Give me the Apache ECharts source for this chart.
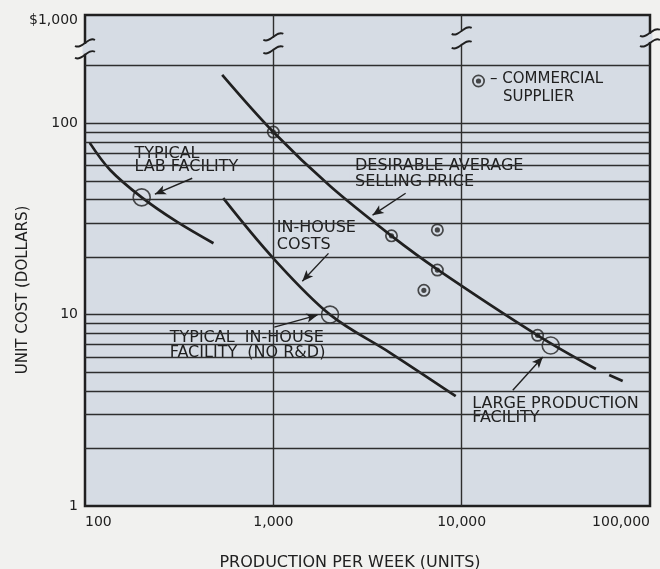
<!DOCTYPE html>
<html><head><meta charset="utf-8">
<script src="https://cdn.jsdelivr.net/npm/echarts@6/dist/echarts.min.js"></script>
<style>html,body{margin:0;padding:0;background:#f1f1ef}#c{width:660px;height:569px}</style>
</head><body><div id="c"></div>
<script>
// ---- data ----
const xTicks = [100, 1000, 10000, 100000];
const yTopLabel = '$1,000';
const gridValuesY = [2,3,4,5,6,7,8,9,10,20,30,40,50,60,70,80,90,100,200];
const gridValuesX = [1000, 10000];
const labCurve = [[106,79],[136,57],[200,41],[307,30.6],[481,23.6]];
const priceCurve = [[535,179],[1000,90],[2000,47],[4240,25.8],[7450,17.2],[25300,7.8],[51600,5.2]];
const priceCurveTail = [[60700,4.84],[71600,4.5]];
const inHouseCurve = [[542,40.6],[1000,19.7],[2000,10],[4190,6.3],[9300,3.75]];
const commercialSuppliers = [[1000,90],[4240,25.8],[7430,27.7],[7430,17.1],[6300,13.4],[25300,7.8]];
const facilities = [[200,41],[2000,10],[29700,6.9]];
const annotationTexts = ['TYPICAL\nLAB FACILITY', 'DESIRABLE AVERAGE\nSELLING PRICE', 'IN-HOUSE\nCOSTS', 'TYPICAL  IN-HOUSE\nFACILITY  (NO R&D)', 'LARGE PRODUCTION\nFACILITY'];
const annotationAnchors = [[173.5,64],[2568,54],[941,25.6],[257,6.9],[10762,3.14]];
const arrowFrom = [[371,51.6],[5040,43.1],[1963,20.9],[1012,8.6],[18680,4.03]];
const arrowTo   = [[235,42.6],[3365,33.1],[1425,14.96],[1714,9.94],[26970,6.0]];
// axis-break marks: x value, upper and lower y value of the two strokes
const breakX = [100, 1000, 10000, 100000];
const breakYUpper = [263, 283, 304, 297];
const breakYLower = [228, 242, 257, 263];

// ---- styles ----
const INK = '#202020', PLOT = '#d6dce4', PAGE = '#f1f1ef';
const FONT = '"DejaVu Sans", sans-serif';
const fmt = v => Math.round(v).toLocaleString('en-US');
const BULLSEYE = 'path://M10,0A10,10,0,1,1,-10,0A10,10,0,1,1,10,0ZM7.4,0A7.4,7.4,0,1,0,-7.4,0A7.4,7.4,0,1,0,7.4,0ZM4,0A4,4,0,1,1,-4,0A4,4,0,1,1,4,0Z';
const labelStyles = [
  {lh:13, pad:[6,4,3,5]},
  {lh:16, pad:[2,4,2,5]},
  {lh:17, pad:[2,6,0,9]},
  {lh:15, pad:[2,12,5,8]},
  {lh:14, pad:[0,5,2,5]}
];

const chart = echarts.init(document.getElementById('c'), null, {renderer:'canvas'});
const curve = (name, data, extra) => Object.assign({
  name, type:'line', data, smooth:0.35, showSymbol:false, symbol:'none', z:3, silent:true,
  lineStyle:{color:INK, width:2.7}
}, extra || {});

const option = {
  animation:false,
  backgroundColor:PAGE,
  tooltip:{show:false},
  grid:{left:85, right:10, top:15, bottom:63, show:true, backgroundColor:PLOT, borderColor:INK, borderWidth:2.5,
    containLabel:false, outerBoundsMode:'none'},
  xAxis:{
    type:'log', logBase:10, min:xTicks[0], max:xTicks[xTicks.length-1],
    axisLine:{show:false}, axisTick:{show:false}, splitLine:{show:false},
    axisLabel:{color:INK, fontFamily:FONT, fontSize:14, margin:9, formatter:fmt, alignMinLabel:'left', alignMaxLabel:'right'},
    name:'PRODUCTION PER WEEK (UNITS)', nameLocation:'middle', nameGap:49, nameMoveOverlap:false,
    nameTextStyle:{color:INK, fontFamily:FONT, fontSize:16, padding:[0,35,0,0]}
  },
  yAxis:{
    type:'log', logBase:10, min:1, max:368,
    axisLine:{show:false}, axisTick:{show:false}, splitLine:{show:false},
    axisLabel:{color:INK, fontFamily:FONT, fontSize:14, margin:7, showMaxLabel:true,
      formatter:v => v > 150 ? '{top|' + yTopLabel + '}' : fmt(v),
      rich:{top:{color:INK, fontFamily:FONT, fontSize:14, padding:[10,0,0,0]}}},
    name:'UNIT COST (DOLLARS)', nameLocation:'middle', nameGap:54, nameRotate:90, nameMoveOverlap:false,
    nameTextStyle:{color:INK, fontFamily:FONT, fontSize:15, padding:[0,59,0,0]}
  },
  legend:{
    show:true, left:467, top:51, itemWidth:13, itemHeight:13, selectedMode:false,
    data:[{name:'COMMERCIAL SUPPLIER', icon:BULLSEYE}],
    formatter:() => '{d|–} {t|COMMERCIAL}\n{s|SUPPLIER}',
    textStyle:{color:INK, fontFamily:FONT, fontSize:15, lineHeight:18, padding:[14,0,0,0],
      rich:{
        d:{color:INK, fontFamily:FONT, fontSize:15, lineHeight:18},
        t:{color:INK, fontFamily:FONT, fontSize:15, lineHeight:18},
        s:{color:INK, fontFamily:FONT, fontSize:15, lineHeight:18, padding:[0,0,0,13]}
      }}
  },
  series:[
    { name:'grid', type:'line', data:[[xTicks[0],1]], showSymbol:false, symbol:'none', z:1, silent:true,
      lineStyle:{opacity:0},
      markLine:{silent:true, symbol:['none','none'], label:{show:false}, animation:false,
        emphasis:{disabled:true},
        lineStyle:{color:'#2e2e2e', width:1.4, type:'solid'},
        data:[...gridValuesY.map(v => ({yAxis:v})), ...gridValuesX.map(v => ({xAxis:v}))]}
    },
    { name:'annotations', type:'scatter', z:2, silent:true, symbolSize:1,
      itemStyle:{color:'transparent'},
      label:{show:true, position:[0,0], align:'left', verticalAlign:'middle', color:INK, opacity:1,
        textBorderWidth:0, fontFamily:FONT, fontSize:16, backgroundColor:PLOT},
      data:annotationTexts.map((t,i) => ({value:annotationAnchors[i],
        label:{formatter:t, lineHeight:labelStyles[i].lh, padding:labelStyles[i].pad}}))
    },
    curve('Typical lab facility', labCurve),
    curve('Desirable average selling price', priceCurve),
    curve('Desirable average selling price (tail)', priceCurveTail, {smooth:false}),
    curve('In-house costs', inHouseCurve),
    { name:'Facilities', type:'scatter', data:facilities, symbol:'circle', symbolSize:17, z:4, silent:true,
      itemStyle:{color:'rgba(0,0,0,0)', borderColor:INK, borderWidth:1.6} },
    { name:'COMMERCIAL SUPPLIER', type:'scatter', data:commercialSuppliers, symbol:BULLSEYE, symbolSize:13, z:5, silent:true,
      itemStyle:{color:INK} },
    { name:'arrows', type:'line', data:[[xTicks[0],1]], showSymbol:false, symbol:'none', z:4, silent:true,
      lineStyle:{opacity:0},
      markLine:{silent:true, symbol:['none','arrow'], symbolSize:[7,11], label:{show:false}, animation:false,
        emphasis:{disabled:true},
        lineStyle:{color:INK, width:1.4, type:'solid'},
        data:arrowFrom.map((p,i) => [{coord:p},{coord:arrowTo[i]}])}
    }
  ]
};
chart.setOption(option);

// axis-break marks drawn on top of the grid and border lines
const gfx = [];
breakX.forEach((xv, i) => {
  const up = chart.convertToPixel({gridIndex:0}, [xv, breakYUpper[i]]);
  const lo = chart.convertToPixel({gridIndex:0}, [xv, breakYLower[i]]);
  const x = up[0];
  gfx.push({type:'rect', z:20, silent:true, shape:{x:x-2.5, y:up[1]+1, width:5, height:lo[1]-up[1]-2}, style:{fill:PLOT}});
  [up[1], lo[1]].forEach(y => gfx.push({type:'bezierCurve', z:21, silent:true,
    shape:{x1:x-10, y1:y+3, cpx1:x-3, cpy1:y+7, cpx2:x+3, cpy2:y-7, x2:x+10, y2:y-3},
    style:{stroke:INK, lineWidth:1.8, fill:null}}));
});
chart.setOption({graphic:gfx});
</script></body></html>
